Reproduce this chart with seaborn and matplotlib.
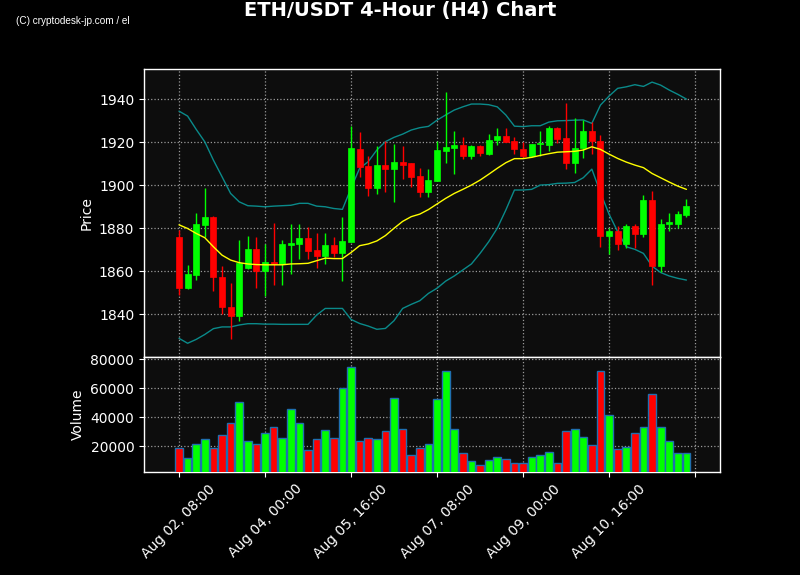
import numpy as np
import pandas as pd
import matplotlib
matplotlib.use("Agg")
import matplotlib.pyplot as plt
import seaborn as sns

# ---------------- data ----------------
tick_labels = ["Aug 02, 08:00", "Aug 04, 00:00", "Aug 05, 16:00",
               "Aug 07, 08:00", "Aug 09, 00:00", "Aug 10, 16:00", ""]

open_ = [1875.8, 1852.2, 1858.3, 1881.6, 1885.1, 1857.1, 1843.4, 1839.2, 1861.3, 1870.2,
         1860.2, 1864.2, 1863.3, 1872.1, 1872.7, 1875.3, 1869.8, 1867.1, 1872.1, 1868.5,
         1873.6, 1916.6, 1908.8, 1898.8, 1909.2, 1907.6, 1910.7, 1910.2, 1904.2, 1896.9,
         1902.0, 1916.0, 1917.4, 1918.5, 1913.7, 1918.0, 1914.6, 1920.8, 1922.7, 1920.5,
         1916.6, 1913.5, 1919.1, 1918.8, 1926.4, 1921.9, 1910.4, 1917.1, 1925.1, 1920.5,
         1876.4, 1878.6, 1872.7, 1880.9, 1877.3, 1893.0, 1862.5, 1881.9, 1881.9, 1886.0]
high = [1879.1, 1862.6, 1886.8, 1898.5, 1885.6, 1862.5, 1854.3, 1874.3, 1876.1, 1875.7,
        1872.6, 1882.2, 1874.3, 1881.7, 1881.7, 1880.6, 1877.5, 1877.5, 1875.7, 1885.0,
        1927.4, 1924.7, 1913.5, 1918.3, 1920.3, 1919.2, 1918.3, 1910.2, 1908.1, 1907.3,
        1920.7, 1943.1, 1925.0, 1922.5, 1918.5, 1918.8, 1923.7, 1926.4, 1926.4, 1922.5,
        1920.0, 1919.1, 1925.0, 1927.4, 1927.0, 1938.0, 1931.3, 1930.5, 1929.3, 1923.1,
        1880.2, 1881.0, 1881.7, 1881.7, 1895.2, 1897.4, 1884.4, 1887.2, 1887.8, 1893.3]
low = [1848.8, 1851.8, 1855.8, 1876.0, 1850.7, 1840.0, 1828.4, 1836.7, 1861.0, 1852.0,
       1848.4, 1853.3, 1853.3, 1858.5, 1865.4, 1865.7, 1861.3, 1863.3, 1866.4, 1855.3,
       1873.6, 1903.9, 1894.9, 1895.7, 1896.7, 1892.0, 1902.8, 1899.1, 1894.6, 1894.5,
       1902.0, 1910.4, 1905.0, 1912.3, 1912.1, 1913.7, 1914.2, 1918.6, 1920.0, 1914.4,
       1912.4, 1912.9, 1913.5, 1916.0, 1919.7, 1907.3, 1905.8, 1912.4, 1914.3, 1871.0,
       1867.8, 1869.6, 1870.6, 1870.6, 1875.7, 1853.3, 1859.5, 1878.5, 1880.0, 1885.0]
close = [1852.2, 1858.6, 1881.9, 1885.1, 1857.1, 1843.4, 1839.2, 1863.6, 1870.2, 1860.0,
         1864.2, 1863.3, 1872.6, 1873.0, 1875.3, 1869.4, 1867.1, 1872.1, 1868.5, 1874.0,
         1917.1, 1908.6, 1898.8, 1909.2, 1907.6, 1910.7, 1909.3, 1903.7, 1896.9, 1902.3,
         1916.3, 1917.5, 1918.6, 1913.7, 1918.0, 1914.8, 1920.8, 1922.7, 1920.0, 1916.6,
         1913.5, 1919.1, 1919.5, 1926.4, 1921.4, 1910.4, 1917.2, 1925.1, 1920.3, 1876.4,
         1878.5, 1872.7, 1880.9, 1877.3, 1893.0, 1862.5, 1881.9, 1882.7, 1886.5, 1890.2]
volume = [18620, 11720, 21375, 24824, 18620, 27583, 35859, 50343, 23445, 21375,
          28962, 33100, 25514, 45515, 35859, 17237, 24824, 31031, 25514, 60000,
          74482, 23445, 25514, 24824, 30342, 53102, 31721, 13789, 18620, 21375,
          52412, 71724, 31721, 15168, 9651, 6892, 10340, 12409, 11030, 8731,
          8731, 12409, 13789, 15858, 8271, 30342, 31721, 26203, 20686, 72183,
          41377, 17927, 19306, 28962, 33560, 55860, 33100, 23445, 15168, 15168]
bb_upper = [1934.4, 1932.1, 1925.9, 1920.1, 1911.6, 1903.9, 1896.1, 1892.2, 1890.4, 1890.2,
            1889.9, 1890.2, 1890.4, 1890.6, 1891.5, 1891.5, 1890.2, 1889.9, 1889.1, 1888.7,
            1898.5, 1907.8, 1910.9, 1916.3, 1920.2, 1922.2, 1923.7, 1925.6, 1926.7, 1927.3,
            1930.2, 1932.6, 1934.9, 1936.4, 1937.7, 1937.7, 1937.4, 1936.4, 1932.6, 1927.4,
            1927.2, 1927.6, 1927.6, 1929.3, 1929.9, 1930.0, 1930.2, 1930.3, 1928.7, 1937.2,
            1941.4, 1945.0, 1945.7, 1946.7, 1945.9, 1947.9, 1946.5, 1944.2, 1942.2, 1940.0]
bb_mid = [1881.5, 1879.8, 1877.5, 1875.5, 1871.3, 1867.4, 1865.1, 1863.9, 1863.3, 1863.0,
          1862.9, 1862.9, 1862.9, 1863.3, 1863.4, 1863.6, 1864.8, 1866.0, 1865.8, 1865.8,
          1868.6, 1871.8, 1872.6, 1874.0, 1876.5, 1879.9, 1883.1, 1885.3, 1886.5, 1888.6,
          1891.2, 1893.8, 1896.1, 1898.0, 1900.0, 1902.3, 1905.0, 1907.8, 1910.4, 1912.3,
          1912.3, 1912.9, 1913.8, 1914.6, 1915.3, 1915.5, 1915.7, 1916.3, 1917.8, 1916.6,
          1914.4, 1912.4, 1910.7, 1909.3, 1908.1, 1905.4, 1903.4, 1901.4, 1899.5, 1898.0]
bb_lower = [1828.7, 1826.4, 1828.2, 1830.5, 1833.2, 1834.0, 1834.0, 1834.9, 1835.5, 1835.5,
            1835.3, 1835.3, 1835.2, 1835.2, 1835.2, 1835.2, 1839.5, 1842.6, 1842.6, 1842.6,
            1837.5, 1835.6, 1834.4, 1832.9, 1833.3, 1836.9, 1842.6, 1844.5, 1846.2, 1849.6,
            1852.0, 1855.3, 1857.7, 1860.5, 1863.3, 1868.2, 1873.6, 1879.9, 1888.4, 1897.7,
            1897.7, 1898.0, 1900.0, 1900.2, 1900.8, 1900.9, 1901.2, 1903.4, 1907.4, 1896.5,
            1886.5, 1878.3, 1871.3, 1870.1, 1868.2, 1862.3, 1859.3, 1857.7, 1856.6, 1855.8]

df = pd.DataFrame({"open": open_, "high": high, "low": low, "close": close,
                   "volume": volume, "upper": bb_upper, "mid": bb_mid, "lower": bb_lower})
df["idx"] = np.arange(len(df))
up = df["close"] >= df["open"]
colors = np.where(up, "#00ff00", "#ff0000")

# ---------------- style ----------------
sns.set_style("dark")
plt.rcParams.update({
    "figure.facecolor": "black",
    "axes.facecolor": "#0d0d0d",
    "axes.edgecolor": "white",
    "axes.labelcolor": "white",
    "xtick.color": "white",
    "ytick.color": "white",
    "text.color": "white",
    "xtick.bottom": True,
    "ytick.left": True,
    "font.family": ["DejaVu Sans"],
})

fig = plt.figure(figsize=(8, 5.75), dpi=100)
fig.patch.set_facecolor("black")
ax1 = fig.add_axes([0.18, 0.3791, 0.72, 0.5009])
ax2 = fig.add_axes([0.18, 0.1791, 0.72, 0.2], sharex=ax1)

# candles
ax1.vlines(df["idx"], df["low"], df["high"], colors=colors, lw=1, zorder=2)
body_bottom = np.minimum(df["open"], df["close"])
body_h = np.maximum(np.abs(df["close"] - df["open"]), 0.3)
ax1.bar(df["idx"], body_h, bottom=body_bottom, width=0.7, color=colors,
        edgecolor=colors, lw=0.5, zorder=3)

# bollinger bands
sns.lineplot(data=df, x="idx", y="upper", ax=ax1, color="#0a8a8a", lw=1, zorder=1)
sns.lineplot(data=df, x="idx", y="lower", ax=ax1, color="#0a8a8a", lw=1, zorder=1)
sns.lineplot(data=df, x="idx", y="mid", ax=ax1, color="yellow", lw=1, zorder=4)

ax1.set_ylim(1820, 1954)
ax1.set_xlim(-4.07, 62.9)
ax1.set_yticks([1840, 1860, 1880, 1900, 1920, 1940])
ax1.set_ylabel("Price", color="white", fontsize=10)
ax1.set_xlabel("")
ax1.grid(True, linestyle=":", color="#9a9a9a", lw=0.9)
ax1.tick_params(axis="x", labelbottom=False, length=0)
for s in ax1.spines.values():
    s.set_color("white")
    s.set_linewidth(1)

# volume
ax2.bar(df["idx"], df["volume"], width=0.9, color=colors,
        edgecolor="#1f6fb0", lw=1, zorder=3)
ax2.set_ylim(2300, 81600)
ax2.set_yticks([20000, 40000, 60000, 80000])
ax2.set_yticklabels(["20000", "40000", "60000", "80000"])
ax2.set_ylabel("Volume", color="white", fontsize=10)
ax2.grid(True, linestyle=":", color="#9a9a9a", lw=0.9)
ax2.set_xticks(np.arange(0, 61, 10))
ax2.set_xticklabels(tick_labels, rotation=45)
for s in ax2.spines.values():
    s.set_color("white")
    s.set_linewidth(1)

ax1.set_axisbelow(True)
ax2.set_axisbelow(True)

fig.text(0.5, 0.982, "ETH/USDT 4-Hour (H4) Chart", ha="center", va="center",
         fontsize=14, fontweight="bold", color="white")
fig.text(16 / 800, 1 - 21 / 575, "(C) cryptodesk-jp.com / el", ha="left", va="center",
         fontsize=7.2, color="white", family=["Liberation Sans", "DejaVu Sans"])

fig.savefig("out.png", dpi=100, facecolor="black")
